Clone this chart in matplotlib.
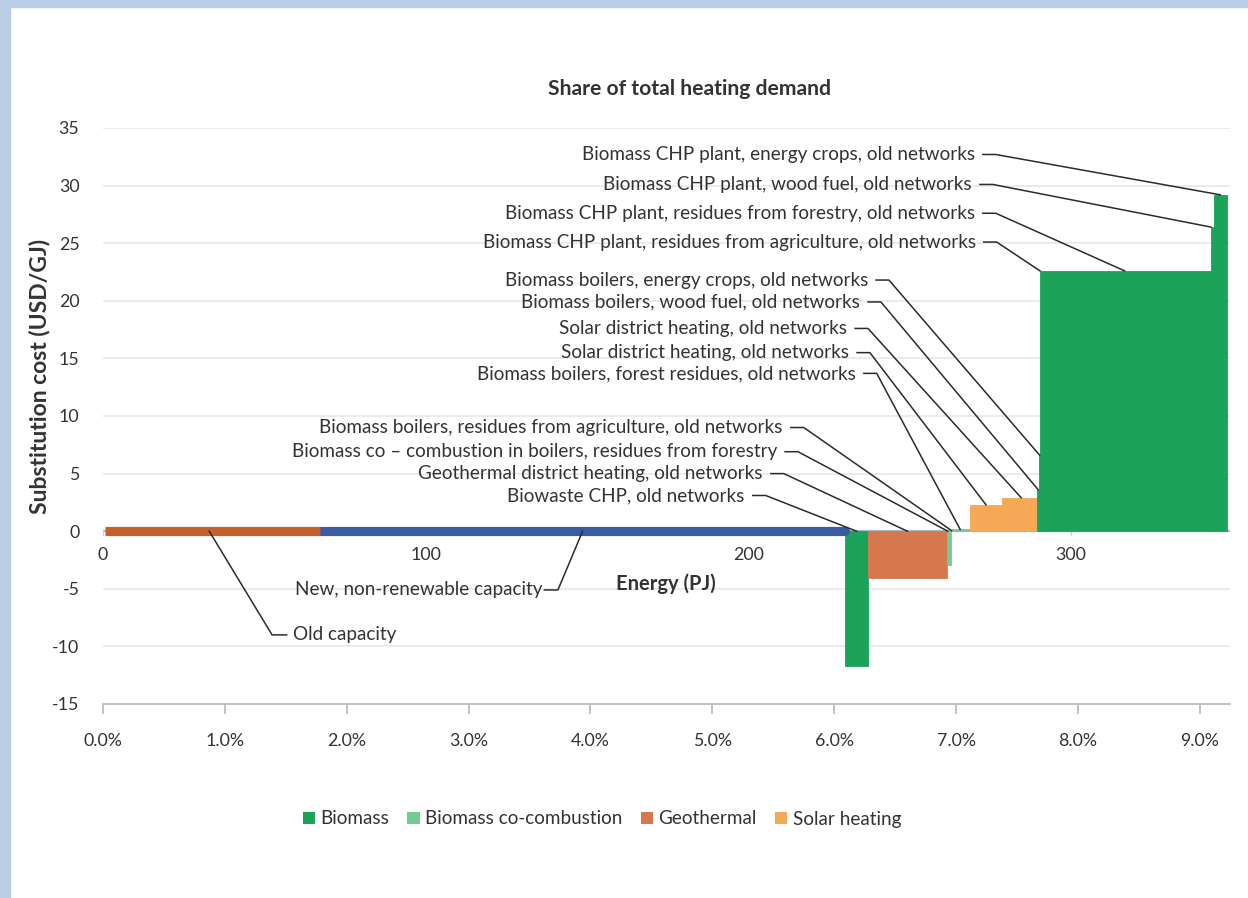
import matplotlib
matplotlib.use("Agg")
import matplotlib.pyplot as plt
from matplotlib.patches import Rectangle, Patch
import numpy as np

plt.rcParams['font.family'] = ['Lato', 'DejaVu Sans']
plt.rcParams['axes.unicode_minus'] = False

# ---------------- data ----------------
total_demand_pj = 3777.0  # PJ corresponding to 100 % of heating demand

old_capacity_pj = 67.2
new_capacity_pj = 162.9

tech_labels = [
    "Biowaste CHP, old networks",
    "Geothermal district heating, old networks",
    "Biomass co \u2013 combustion in boilers, residues from forestry",
    "Biomass boilers, residues from agriculture, old networks",
    "Biomass boilers, forest residues, old networks",
    "Solar district heating, old networks",
    "Solar district heating, old networks",
    "Biomass boilers, wood fuel, old networks",
    "Biomass boilers, energy crops, old networks",
    "Biomass CHP plant, residues from agriculture, old networks",
    "Biomass CHP plant, residues from forestry, old networks",
    "Biomass CHP plant, wood fuel, old networks",
    "Biomass CHP plant, energy crops, old networks",
]
tech_group = ["Biomass", "Geothermal", "Biomass co-combustion", "Biomass co-combustion",
              "Biomass co-combustion", "Solar heating", "Solar heating", "Biomass",
              "Biomass", "Biomass", "Biomass", "Biomass", "Biomass"]
tech_energy_pj = [6.9, 24.6, 1.2, 0.4, 5.5, 9.9, 10.9, 0.7, 0.2, 0.5, 52.5, 0.9, 4.0]
tech_cost = [-11.7, -4.1, -2.9, 0.05, 0.15, 2.3, 2.9, 3.6, 6.6, 22.6, 22.6, 26.4, 29.2]

pct_ticks = [0, 1, 2, 3, 4, 5, 6, 7, 8, 9]
energy_ticks = [0, 100, 200, 300]
y_ticks = [-15, -10, -5, 0, 5, 10, 15, 20, 25, 30, 35]

group_colors = {
    "Biomass": "#1BA35A",
    "Biomass co-combustion": "#74CB93",
    "Geothermal": "#D6784E",
    "Solar heating": "#F5A855",
}

# label placement (style): right edge x (PJ), y (USD/GJ), anchor fraction along bar top
label_x = [198.9, 204.5, 208.9, 210.7, 233.3, 231.2, 230.6, 234.6, 237.1, 270.5, 270.2, 269.3, 270.2]
label_y = [3.1, 5.0, 6.9, 9.0, 13.7, 15.5, 17.6, 19.9, 21.8, 25.1, 27.6, 30.1, 32.7]
anchor_frac = [0.5, 0.5, 0.2, 0.5, 0.45, 0.5, 0.55, 0.5, 0.5, 0.0, 0.49, 0.0, 0.5]

# ---------------- figure ----------------
W, H = 1248, 898
fig = plt.figure(figsize=(W / 100, H / 100), dpi=100)
fig.patch.set_facecolor("white")
border = "#B9CDE5"
fig.patches.append(Rectangle((0, 1 - 7 / H), 1, 7 / H, transform=fig.transFigure, color=border, zorder=0))
fig.patches.append(Rectangle((0, 0), 10 / W, 1, transform=fig.transFigure, color=border, zorder=0))

ax_l, ax_r, ax_t, ax_b = 103, 1230, 128, 704
ax = fig.add_axes([ax_l / W, 1 - ax_b / H, (ax_r - ax_l) / W, (ax_b - ax_t) / H])
ax.set_xlim(0, 349.3)
ax.set_ylim(-15, 35)

text_c = "#333333"
fs_lab = 13.6

# grid
for yv in y_ticks[1:]:
    ax.axhline(yv, color="#EBEBEB", lw=1.5, zorder=0)
for s in ["top", "right", "left"]:
    ax.spines[s].set_visible(False)
ax.spines["bottom"].set_color("#BDBDBD")
ax.spines["bottom"].set_linewidth(1.3)

ax.set_yticks(y_ticks)
ax.set_yticklabels([str(v) for v in y_ticks], fontsize=12.8, color=text_c)
ax.tick_params(axis="y", length=0, pad=17)
ax.set_xticks([p * total_demand_pj / 100 for p in pct_ticks])
ax.set_xticklabels([f"{p:.1f}%" for p in pct_ticks], fontsize=12.8, color=text_c)
ax.tick_params(axis="x", length=7, width=1.3, color="#BDBDBD", direction="out", pad=14)

# zero (energy) axis
ax.axhline(0, color="#A9B9CF", lw=1.6, zorder=1)
for e in energy_ticks:
    ax.plot([e, e], [0, -0.3], color="#C8D2DF", lw=1, zorder=1)
    ax.text(e, -2.1, str(e), ha="center", va="center", fontsize=12.8, color=text_c)
ax.text(174.5, -4.6, "Energy (PJ)", ha="center", va="center", fontsize=14.5,
        fontweight="bold", color=text_c)

# existing capacity bars
new_end = old_capacity_pj + new_capacity_pj
ax.plot([old_capacity_pj, new_end], [0, 0], color="#3A5CA5", lw=6.6,
        solid_capstyle="round", zorder=3)
ax.plot([0.5, old_capacity_pj], [0, 0], color="#C5602A", lw=6.6,
        solid_capstyle="butt", zorder=4)

# technology bars
starts = new_end + np.concatenate([[0], np.cumsum(tech_energy_pj)[:-1]])
for s, w, v, g in zip(starts, tech_energy_pj, tech_cost, tech_group):
    ax.bar(s, v, width=w, align="edge", color=group_colors[g], edgecolor=group_colors[g],
           linewidth=0.6, zorder=2)

# leaders and labels
lc = "#2B2B2B"
for lab, lx, ly, s, w, v, f in zip(tech_labels, label_x, label_y, starts, tech_energy_pj,
                                   tech_cost, anchor_frac):
    tx = s + f * w
    ty = max(v, 0)
    ax.text(lx, ly, lab, ha="right", va="center", fontsize=fs_lab, color=text_c, zorder=6)
    ax.plot([lx + 2.5, lx + 6.5, tx], [ly, ly, ty], color=lc, lw=1.1, zorder=5, clip_on=False)

# old / new capacity labels
ax.text(58.9, -9.0, "Old capacity", ha="left", va="center", fontsize=fs_lab, color=text_c)
ax.plot([56.9, 52.4, 0.49 * old_capacity_pj], [-9.0, -9.0, 0], color=lc, lw=1.1, zorder=5)
ax.text(136.3, -5.1, "New, non-renewable capacity", ha="right", va="center",
        fontsize=fs_lab, color=text_c)
ax.plot([136.8, 141.0, old_capacity_pj + 0.5 * new_capacity_pj], [-5.1, -5.1, 0],
        color=lc, lw=1.1, zorder=5)

# titles
fig.text(690 / W, 1 - 89 / H, "Share of total heating demand", ha="center", va="center",
         fontsize=15.2, fontweight="bold", color=text_c)
fig.text(40 / W, 1 - 376 / H, "Substitution cost (USD/GJ)", ha="center", va="center",
         rotation=90, fontsize=16.5, fontweight="bold", color=text_c)

# legend
handles = [Patch(facecolor=group_colors[g], edgecolor="none") for g in group_colors]
fig.legend(handles, list(group_colors.keys()), loc="center", ncol=4,
           bbox_to_anchor=(602 / W, 1 - 819 / H), frameon=False, fontsize=fs_lab,
           handlelength=0.65, handleheight=0.65, handletextpad=0.3, columnspacing=0.95,
           labelcolor=text_c)

fig.savefig("out.png", dpi=100)
